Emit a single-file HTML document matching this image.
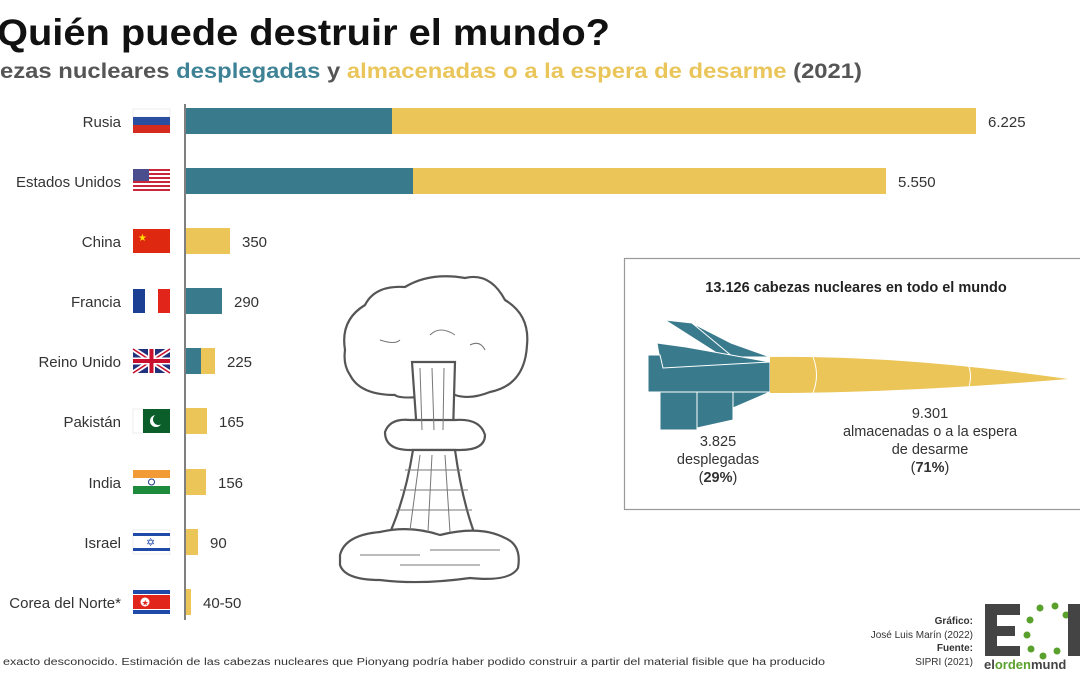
<!DOCTYPE html>
<html><head><meta charset="utf-8"><style>
body{margin:0;background:#fff;}
svg text{font-family:"Liberation Sans",sans-serif;}
</style></head><body>
<svg width="1080" height="675" viewBox="0 0 1080 675" xmlns="http://www.w3.org/2000/svg">
<rect width="1080" height="675" fill="#fff"/>
<text x="-22" y="45" font-size="37" font-weight="bold" fill="#111">¿</text>
<text x="-3" y="45" font-size="37" font-weight="bold" fill="#111" textLength="613" lengthAdjust="spacingAndGlyphs">Quién puede destruir el mundo?</text>
<text x="-40" y="78" font-size="21.5" font-weight="bold" fill="#555">cab</text>
<text x="0" y="78" font-size="21.5" font-weight="bold" fill="#555" textLength="862" lengthAdjust="spacingAndGlyphs">ezas nucleares <tspan fill="#3e8295">desplegadas</tspan> y <tspan fill="#e9c55a">almacenadas o a la espera de desarme</tspan> (2021)</text>
<line x1="185" y1="104" x2="185" y2="620" stroke="#555" stroke-width="1.5"/>
<g font-size="15" fill="#333" text-anchor="end">
<text x="121" y="127">Rusia</text>
<text x="121" y="187">Estados Unidos</text>
<text x="121" y="247">China</text>
<text x="121" y="307">Francia</text>
<text x="121" y="367">Reino Unido</text>
<text x="121" y="427">Pakistán</text>
<text x="121" y="488">India</text>
<text x="121" y="548">Israel</text>
<text x="121" y="608">Corea del Norte*</text>
</g>
<rect x="186" y="108" width="206" height="26" fill="#397a8d"/><rect x="392" y="108" width="584" height="26" fill="#ebc558"/>
<rect x="186" y="168" width="227" height="26" fill="#397a8d"/><rect x="413" y="168" width="473" height="26" fill="#ebc558"/>
<rect x="186" y="228" width="44" height="26" fill="#ebc558"/>
<rect x="186" y="288" width="36" height="26" fill="#397a8d"/>
<rect x="186" y="348" width="15" height="26" fill="#397a8d"/><rect x="201" y="348" width="14" height="26" fill="#ebc558"/>
<rect x="186" y="408" width="21" height="26" fill="#ebc558"/>
<rect x="186" y="469" width="20" height="26" fill="#ebc558"/>
<rect x="186" y="529" width="12" height="26" fill="#ebc558"/>
<rect x="186" y="589" width="5" height="26" fill="#ebc558"/>
<g font-size="15" fill="#333">
<text x="988" y="127">6.225</text>
<text x="898" y="187">5.550</text>
<text x="242" y="247">350</text>
<text x="234" y="307">290</text>
<text x="227" y="367">225</text>
<text x="219" y="427">165</text>
<text x="218" y="488">156</text>
<text x="210" y="548">90</text>
<text x="203" y="608">40-50</text>
</g>
<g>
<rect x="133" y="109" width="37" height="8" fill="#fff" stroke="#ddd" stroke-width="0.5"/><rect x="133" y="117" width="37" height="8" fill="#2a4ea0"/><rect x="133" y="125" width="37" height="8" fill="#d52b1e"/>
<rect x="133" y="169" width="37" height="24" fill="#fff"/>
<g fill="#c8283a"><rect x="133" y="169" width="37" height="2"/><rect x="133" y="173" width="37" height="2"/><rect x="133" y="177" width="37" height="2"/><rect x="133" y="181" width="37" height="2"/><rect x="133" y="185" width="37" height="2"/><rect x="133" y="189" width="37" height="2"/></g>
<rect x="133" y="169" width="16" height="12" fill="#4a4e8c"/>
<rect x="133" y="229" width="37" height="24" fill="#de2910"/><text x="138" y="241" font-size="10" fill="#ffde00">★</text>
<rect x="133" y="289" width="12" height="24" fill="#1c3f94"/><rect x="145" y="289" width="13" height="24" fill="#fff"/><rect x="158" y="289" width="12" height="24" fill="#e1251b"/>
<rect x="133" y="349" width="37" height="24" fill="#21317b"/>
<path d="M133 349L170 373M170 349L133 373" stroke="#fff" stroke-width="5"/><path d="M133 349L170 373M170 349L133 373" stroke="#c8102e" stroke-width="1.6"/>
<path d="M151.5 349V373M133 361H170" stroke="#fff" stroke-width="7"/><path d="M151.5 349V373M133 361H170" stroke="#c8102e" stroke-width="4"/>
<rect x="133" y="409" width="10" height="24" fill="#fff" stroke="#ddd" stroke-width="0.5"/><rect x="143" y="409" width="27" height="24" fill="#0b5e2a"/><circle cx="156" cy="421" r="6" fill="#fff"/><circle cx="158.5" cy="419.5" r="5.5" fill="#0b5e2a"/>
<rect x="133" y="470" width="37" height="8" fill="#f29a35"/><rect x="133" y="478" width="37" height="8" fill="#fff"/><rect x="133" y="486" width="37" height="8" fill="#1d8a3c"/><circle cx="151.5" cy="482" r="3" fill="none" stroke="#1f3a8a"/>
<rect x="133" y="530" width="37" height="24" fill="#fff" stroke="#ddd" stroke-width="0.5"/><rect x="133" y="533" width="37" height="3" fill="#1f4aa8"/><rect x="133" y="548" width="37" height="3" fill="#1f4aa8"/><text x="146" y="546" font-size="11" fill="#1f4aa8">✡</text>
<rect x="133" y="590" width="37" height="24" fill="#1f4aa8"/><rect x="133" y="594" width="37" height="16" fill="#fff"/><rect x="133" y="595" width="37" height="14" fill="#e1251b"/><circle cx="145" cy="602" r="4.5" fill="#fff"/><text x="141.6" y="605.5" font-size="8" fill="#e1251b">★</text>
</g>
<g fill="#fff" stroke="#555" stroke-width="2.2">
<path d="M345 350 Q340 320 365 305 Q375 285 405 287 Q430 272 465 278 Q490 272 505 300 Q530 315 527 345 Q525 385 490 392 Q470 400 455 395 L440 395 Q400 400 395 395 Q360 395 350 375 Q343 365 345 350Z"/>
<path d="M412 362 L455 362 L453 433 L417 433Z"/>
<path d="M385 432 Q390 418 410 420 L455 420 Q480 418 485 435 Q485 450 460 450 L410 450 Q385 450 385 432Z"/>
<path d="M418 450 L455 450 Q462 500 475 535 L388 537 Q405 500 413 450Z"/>
<path d="M340 555 Q345 535 380 532 Q410 525 440 535 Q480 525 505 538 Q522 545 518 568 Q510 582 470 578 Q420 585 380 580 Q345 580 340 565Z"/>
</g>
<g stroke="#777" stroke-width="1" fill="none">
<path d="M420 368 L422 430 M432 368 L434 430 M444 368 L443 430"/>
<path d="M405 470 H462 M400 490 H468 M396 510 H472 M420 455 L410 530 M432 455 L428 532 M445 455 L450 532"/>
<path d="M360 555 H420 M400 565 H480 M430 550 H500"/>
<path d="M380 340 Q395 345 400 340 M430 335 Q440 325 455 335 M470 345 Q480 340 485 350"/>
</g>
<rect x="624.5" y="258.5" width="470" height="251" fill="none" stroke="#999" stroke-width="1.2"/>
<text x="856" y="292" font-size="14.5" font-weight="bold" fill="#222" text-anchor="middle">13.126 cabezas nucleares en todo el mundo</text>
<g fill="#397a8d" stroke="#fff" stroke-width="1">
<path d="M665 320 L692 323 L733 355 L720 355 Z"/>
<path d="M692 323 L731 343 L770 357 L733 357 Z"/>
<path d="M657 343 L686 347 L770 362 L662 372 Z"/>
<path d="M648 355 L660 355 L663 368 L770 362 L770 393 L660 392 L648 392 Z"/>
<path d="M660 392 L697 392 L697 430 L660 430 Z"/>
<path d="M697 392 L733 392 L733 420 L697 428 Z"/>
<path d="M733 392 L770 392 L733 408 Z"/>
</g>
<path d="M770 357 Q900 355 1068 379 Q900 393 770 393 Z" fill="#ebc558"/>
<path d="M813 357 Q820 375 813 393 M968 364 Q973 376 968 390" stroke="#fff" stroke-width="1" fill="none"/>
<g font-size="14.5" fill="#333" text-anchor="middle">
<text x="718" y="446">3.825</text>
<text x="718" y="464">desplegadas</text>
<text x="718" y="482">(<tspan font-weight="bold">29%</tspan>)</text>
<text x="930" y="418">9.301</text>
<text x="930" y="436">almacenadas o a la espera</text>
<text x="930" y="454">de desarme</text>
<text x="930" y="472">(<tspan font-weight="bold">71%</tspan>)</text>
</g>
<text x="3" y="665" font-size="10" fill="#333" textLength="822" lengthAdjust="spacingAndGlyphs">exacto desconocido. Estimación de las cabezas nucleares que Pionyang podría haber podido construir a partir del material fisible que ha producido</text>
<g font-size="10" fill="#333" text-anchor="end">
<text x="973" y="624" font-weight="bold">Gráfico:</text>
<text x="973" y="638">José Luis Marín (2022)</text>
<text x="973" y="651" font-weight="bold">Fuente:</text>
<text x="973" y="665">SIPRI (2021)</text>
</g>
<path d="M985 604 H1020 V615 H997 V626 H1015 V636 H997 V646 H1020 V656 H985 Z" fill="#444"/>
<g fill="#5aa02c"><circle cx="1040" cy="608" r="3.5"/><circle cx="1055" cy="606" r="3.5"/><circle cx="1030" cy="620" r="3.5"/><circle cx="1027" cy="635" r="3.5"/><circle cx="1031" cy="649" r="3.5"/><circle cx="1043" cy="656" r="3.5"/><circle cx="1057" cy="651" r="3.5"/><circle cx="1066" cy="615" r="3.5"/></g>
<path d="M1068 604 L1080 604 L1080 656 L1068 656Z" fill="#444"/>
<text x="984" y="669" font-size="13" font-weight="bold" fill="#444">el<tspan fill="#5aa02c">orden</tspan>mund</text>
</svg>
</body></html>
